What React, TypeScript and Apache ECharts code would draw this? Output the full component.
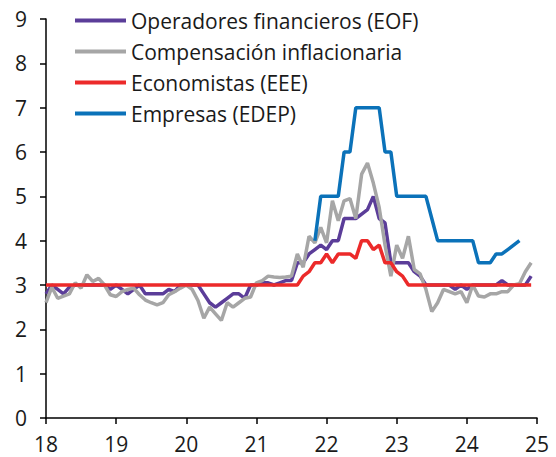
import React, { useEffect, useRef } from "react";
import * as echarts from "echarts";

// Monthly observations, Jan 2018 (index 0) to Dec 2024 (index 83); x = year (two digits) + month/12
const startYear = 18;
const xTicks = [18, 19, 20, 21, 22, 23, 24, 25];
const yTicks = [0, 1, 2, 3, 4, 5, 6, 7, 8, 9];

const seriesNames = [
  "Operadores financieros (EOF)",
  "Compensación inflacionaria",
  "Economistas (EEE)",
  "Empresas (EDEP)",
];

const eof = [
  2.8, 3.0, 2.9, 2.8, 2.95, 3.0, 3.0, 3.0, 3.0, 3.0, 3.0, 2.9,
  3.0, 2.9, 2.8, 2.9, 3.0, 2.8, 2.8, 2.8, 2.8, 2.9, 2.85, 3.0,
  3.0, 3.0, 3.0, 2.8, 2.6, 2.5, 2.6, 2.7, 2.8, 2.8, 2.7, 3.0,
  3.0, 3.05, 3.05, 3.0, 3.05, 3.1, 3.1, 3.5, 3.5, 3.7, 3.8, 3.9,
  3.8, 4.0, 4.0, 4.5, 4.5, 4.5, 4.6, 4.7, 5.0, 4.5, 4.4, 3.5,
  3.5, 3.5, 3.5, 3.3, 3.2, 3.0, 3.0, 3.0, 3.0, 3.0, 2.9, 3.0,
  2.9, 3.0, 3.0, 3.0, 3.0, 3.0, 3.1, 3.0, 3.0, 3.0, 3.0, 3.2,
];

const compensacion = [
  2.6, 2.95, 2.7, 2.75, 2.8, 3.05, 2.93, 3.23, 3.08, 3.15, 3.0, 2.78,
  2.74, 2.85, 2.9, 2.93, 2.78, 2.66, 2.6, 2.55, 2.6, 2.78, 2.85, 2.93,
  3.0, 2.9, 2.65, 2.25, 2.5, 2.35, 2.2, 2.6, 2.5, 2.6, 2.7, 2.73,
  3.05, 3.1, 3.2, 3.18, 3.17, 3.18, 3.2, 3.7, 3.4, 4.1, 3.95, 4.3,
  3.95, 4.9, 4.45, 4.9, 4.95, 4.5, 5.5, 5.75, 5.3, 4.75, 3.9, 3.2,
  3.9, 3.6, 4.1, 3.35, 3.25, 2.9, 2.4, 2.6, 2.9, 2.85, 2.8, 2.85,
  2.6, 3.0, 2.75, 2.73, 2.8, 2.8, 2.85, 2.85, 3.0, 3.03, 3.3, 3.5,
];

const economistas = [
  3, 3, 3, 3, 3, 3, 3, 3, 3, 3, 3, 3,
  3, 3, 3, 3, 3, 3, 3, 3, 3, 3, 3, 3,
  3, 3, 3, 3, 3, 3, 3, 3, 3, 3, 3, 3,
  3, 3, 3, 3, 3, 3, 3, 3.0, 3.2, 3.3, 3.5, 3.5,
  3.7, 3.5, 3.7, 3.7, 3.7, 3.6, 4.0, 4.0, 3.8, 3.9, 3.5, 3.5,
  3.3, 3.2, 3.0, 3, 3, 3, 3, 3, 3, 3, 3, 3,
  3, 3, 3, 3, 3, 3, 3, 3, 3, 3, 3, 3,
];

const empresas: (number | null)[] = [
  null, null, null, null, null, null, null, null, null, null, null, null,
  null, null, null, null, null, null, null, null, null, null, null, null,
  null, null, null, null, null, null, null, null, null, null, null, null,
  null, null, null, null, null, null, null, null, null, null, 4, 5,
  5, 5, 5, 6, 6, 7, 7, 7, 7, 7, 6, 6,
  5, 5, 5, 5, 5, 5, 4.5, 4, 4, 4, 4, 4,
  4, 4, 3.5, 3.5, 3.5, 3.7, 3.7, 3.8, 3.9, 4.0, null, null,
];

const colors = ["#5b3d99", "#a6a6a6", "#ec2a2a", "#0b72b9"];

const toPairs = (vals: (number | null)[]) =>
  vals.map((v, i) => [startYear + i / 12, v]).filter((p) => p[1] !== null);

export default function App() {
  const ref = useRef<HTMLDivElement>(null);
  useEffect(() => {
    if (!ref.current) return;
    const chart = echarts.init(ref.current, undefined, { renderer: "svg" });
    const font = "'Open Sans', 'Noto Sans', sans-serif";
    const data = [eof, compensacion, economistas, empresas];
    chart.setOption({
      animation: false,
      backgroundColor: "#ffffff",
      textStyle: { fontFamily: font },
      grid: { left: 46, right: 19, top: 19, bottom: 39, containLabel: false },
      legend: {
        orient: "vertical",
        left: 70,
        top: 4,
        itemWidth: 51,
        itemHeight: 4,
        itemGap: 8,
        icon: "rect",
        data: seriesNames,
        textStyle: { fontFamily: font, fontSize: 21, color: "#1a1a1a", lineHeight: 23 },
      },
      xAxis: {
        type: "value",
        min: 18,
        max: 25,
        interval: 1,
        splitLine: { show: false },
        axisLine: { show: true, onZero: false, lineStyle: { color: "#000", width: 1.5 } },
        axisTick: { show: true, inside: false, length: 6, lineStyle: { color: "#000", width: 1.5 } },
        axisLabel: {
          margin: 15,
          fontSize: 21,
          color: "#1a1a1a",
          fontFamily: font,
          formatter: (v: number) => (xTicks.includes(v) ? String(v) : ""),
        },
      },
      yAxis: {
        type: "value",
        min: 0,
        max: 9,
        interval: 1,
        splitLine: { show: false },
        axisLine: { show: true, lineStyle: { color: "#000", width: 1.5 } },
        axisTick: { show: true, inside: false, length: 6, lineStyle: { color: "#000", width: 1.5 } },
        axisLabel: {
          margin: 19,
          fontSize: 21,
          color: "#1a1a1a",
          fontFamily: font,
          formatter: (v: number) => (yTicks.includes(v) ? String(v) : ""),
        },
      },
      series: seriesNames.map((name, k) => ({
        name,
        type: "line",
        data: toPairs(data[k]),
        symbol: "none",
        color: colors[k],
        lineStyle: { color: colors[k], width: 3.5 },
        itemStyle: { color: colors[k] },
        z: 2 + k,
      })),
    });
    return () => chart.dispose();
  }, []);
  return <div ref={ref} style={{ width: 556, height: 457, position: "absolute", left: 0, top: 0 }} />;
}
